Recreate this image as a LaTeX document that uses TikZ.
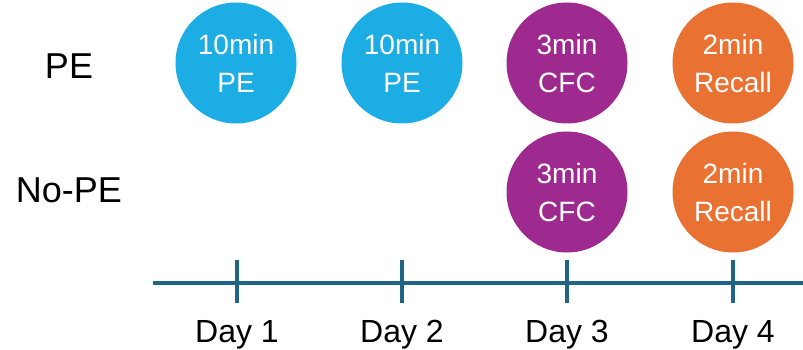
\documentclass[tikz,border=0pt]{standalone}
\usepackage{fontspec}
\setmainfont{Liberation Sans}
\usetikzlibrary{positioning}
\definecolor{sessBlue}{HTML}{1CADE4}
\definecolor{sessPurple}{HTML}{9E2A8F}
\definecolor{sessOrange}{HTML}{E97132}
\definecolor{axisTeal}{HTML}{1F6586}
\tikzset{
  session/.style={circle, draw=none, minimum size=121pt, inner sep=0pt,
    align=center, text=white, font=\fontsize{28}{38}\selectfont},
  pe/.style    ={session, fill=sessBlue},
  cfc/.style   ={session, fill=sessPurple},
  recall/.style={session, fill=sessOrange},
  rowlabel/.style={anchor=base, font=\fontsize{36}{40}\selectfont},
  daylabel/.style={anchor=base, font=\fontsize{32}{36}\selectfont},
  axis/.style={line width=4pt, draw=axisTeal},
}

\begin{document}
\begin{tikzpicture}[x=1pt, y=-1pt]
  \useasboundingbox (0,0) rectangle (803,350);

  % ---- Row labels --------------------------------------------------------
  \node[rowlabel] (rowPE)   at (69,79)  {PE};
  \node[rowlabel] (rowNoPE) at (69,202) {No-PE};

  % ---- Sessions ----------------------------------------------------------
  \node[pe]     (pe1)  at (236,63)  {10min\\PE};
  \node[pe]     (pe2)  at (402,63)  {10min\\PE};
  \node[cfc]    (cfcA) at (567,63)  {3min\\CFC};
  \node[recall] (recA) at (733,63)  {2min\\Recall};

  \node[cfc]    (cfcB) at (567,192) {3min\\CFC};
  \node[recall] (recB) at (733,192) {2min\\Recall};

  % ---- Time axis ---------------------------------------------------------
  \coordinate (axL) at (153,283);
  \coordinate (axR) at (803,283);
  \draw[axis] (axL) -- (axR);

  \foreach \x/\d in {237/1, 402/2, 567/3, 733/4} {
    \coordinate (tk\d) at (\x,283);
    \draw[axis] ([yshift=23pt]tk\d) -- ([yshift=-20pt]tk\d);
    \node[daylabel] (day\d) at (\x,342) {Day \d};
  }

\end{tikzpicture}
\end{document}
